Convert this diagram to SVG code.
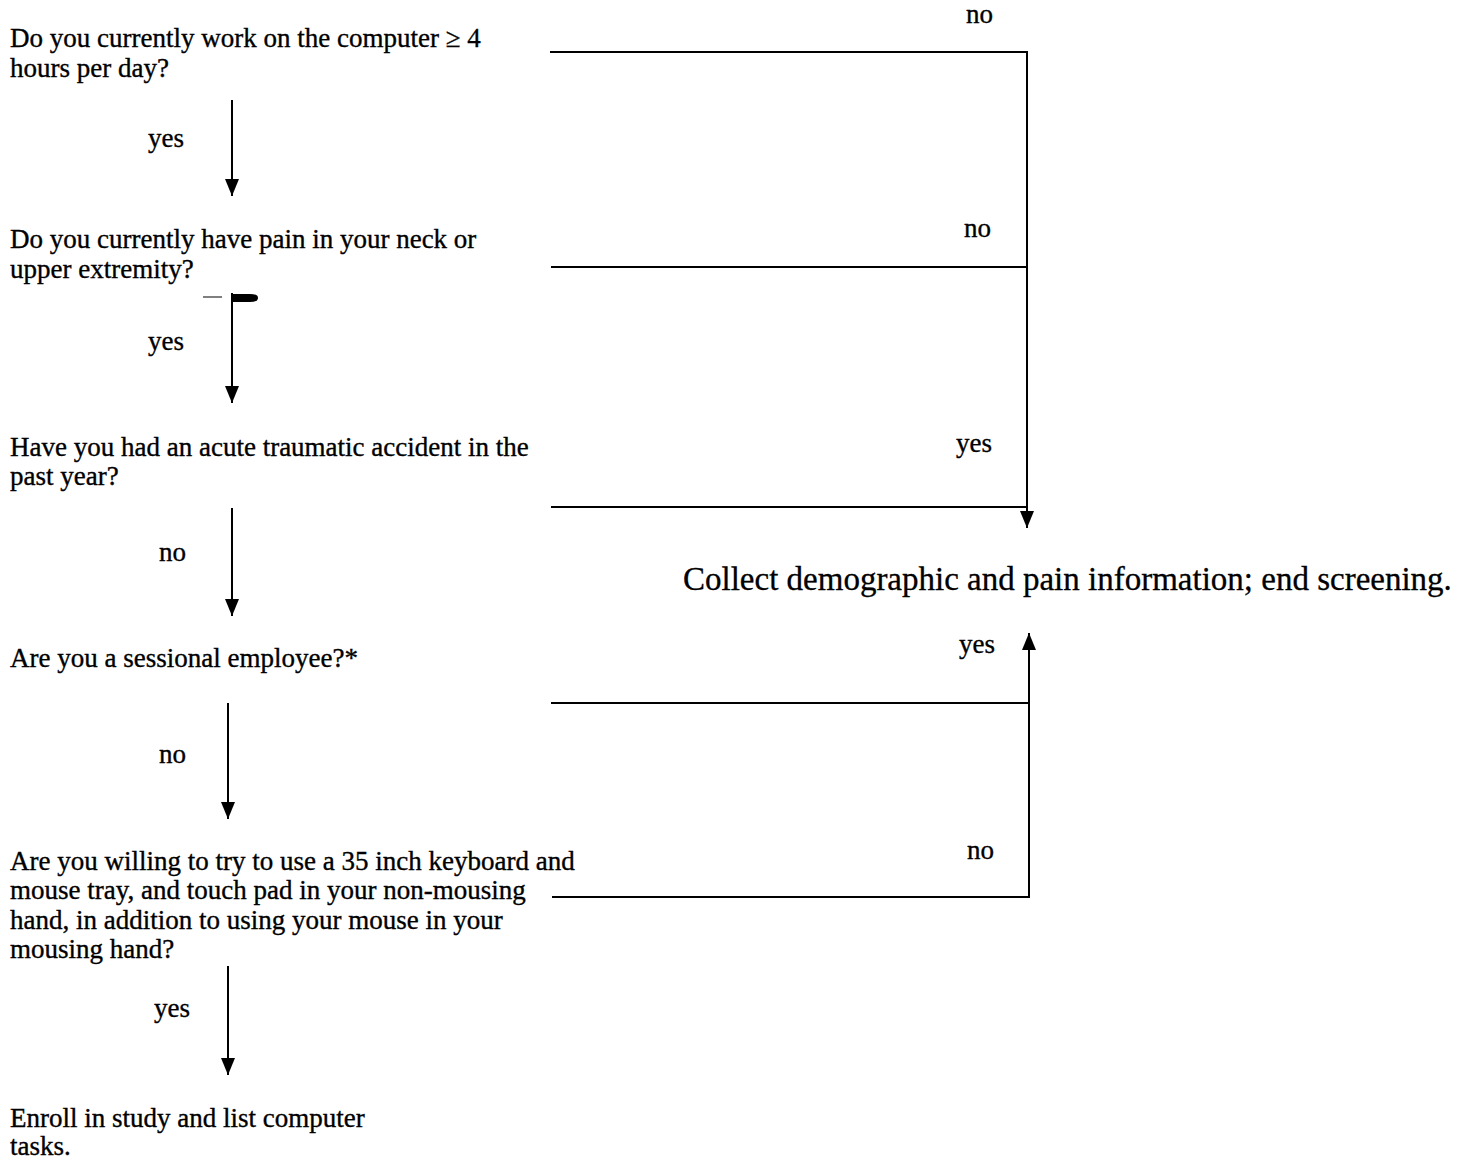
<svg xmlns="http://www.w3.org/2000/svg" width="1469" height="1162" viewBox="0 0 1469 1162">
<defs>
<marker id="ah" markerUnits="userSpaceOnUse" markerWidth="17" markerHeight="14" refX="17" refY="7" orient="auto">
<path d="M0,0 L17,7 L0,14 z" fill="#000"/>
</marker>
<style>
.t{font-family:"Liberation Serif","Times New Roman",serif;font-size:27px;fill:#000;stroke:#000;stroke-width:0.35px}
.big{font-family:"Liberation Serif","Times New Roman",serif;font-size:33px;fill:#000;stroke:#000;stroke-width:0.3px}
.c{stroke:#000;stroke-width:2;fill:none}
</style>
</defs>
<rect width="1469" height="1162" fill="#fff"/>
<g id="q1"><text class="t" x="10" y="47">Do you currently work on the computer ≥ 4</text><text class="t" x="10" y="77">hours per day?</text></g>
<g id="q2"><text class="t" x="10" y="248">Do you currently have pain in your neck or</text><text class="t" x="10" y="278">upper extremity?</text></g>
<g id="q3"><text class="t" x="10" y="456">Have you had an acute traumatic accident in the</text><text class="t" x="10" y="485">past year?</text></g>
<g id="q4"><text class="t" x="10" y="667">Are you a sessional employee?*</text></g>
<g id="q5"><text class="t" x="10" y="870">Are you willing to try to use a 35 inch keyboard and</text><text class="t" x="10" y="899">mouse tray, and touch pad in your non-mousing</text><text class="t" x="10" y="929">hand, in addition to using your mouse in your</text><text class="t" x="10" y="958">mousing hand?</text></g>
<g id="enroll"><text class="t" x="10" y="1127">Enroll in study and list computer</text><text class="t" x="10" y="1155">tasks.</text></g>
<g id="end"><text class="big" x="683" y="590">Collect demographic and pain information; end screening.</text></g>
<g id="connectors">
<line class="c" x1="232" y1="100" x2="232" y2="196" marker-end="url(#ah)"/>
<line class="c" x1="232" y1="293" x2="232" y2="403" marker-end="url(#ah)"/>
<line class="c" x1="232" y1="508" x2="232" y2="616" marker-end="url(#ah)"/>
<line class="c" x1="228" y1="703" x2="228" y2="819" marker-end="url(#ah)"/>
<line class="c" x1="228" y1="966" x2="228" y2="1075" marker-end="url(#ah)"/>
<polyline class="c" points="550,52 1027,52 1027,528" marker-end="url(#ah)"/>
<line class="c" x1="551" y1="267" x2="1027" y2="267"/>
<line class="c" x1="551" y1="507" x2="1026" y2="507"/>
<polyline class="c" points="552,897 1029,897 1029,633" marker-end="url(#ah)"/>
<line class="c" x1="551" y1="703" x2="1029" y2="703"/>
<path d="M203,297 L222,297" stroke="#000" stroke-width="1"/>
<path d="M233,294 L250,294 Q258,294 258,298 Q258,302 250,302 L233,302 z" fill="#000"/>
</g>
<g id="labels">
<text class="t" x="966" y="23">no</text>
<text class="t" x="964" y="237">no</text>
<text class="t" x="956" y="452">yes</text>
<text class="t" x="959" y="653">yes</text>
<text class="t" x="967" y="859">no</text>
<text class="t" x="148" y="147">yes</text>
<text class="t" x="148" y="350">yes</text>
<text class="t" x="159" y="561">no</text>
<text class="t" x="159" y="763">no</text>
<text class="t" x="154" y="1017">yes</text>
</g>
</svg>
